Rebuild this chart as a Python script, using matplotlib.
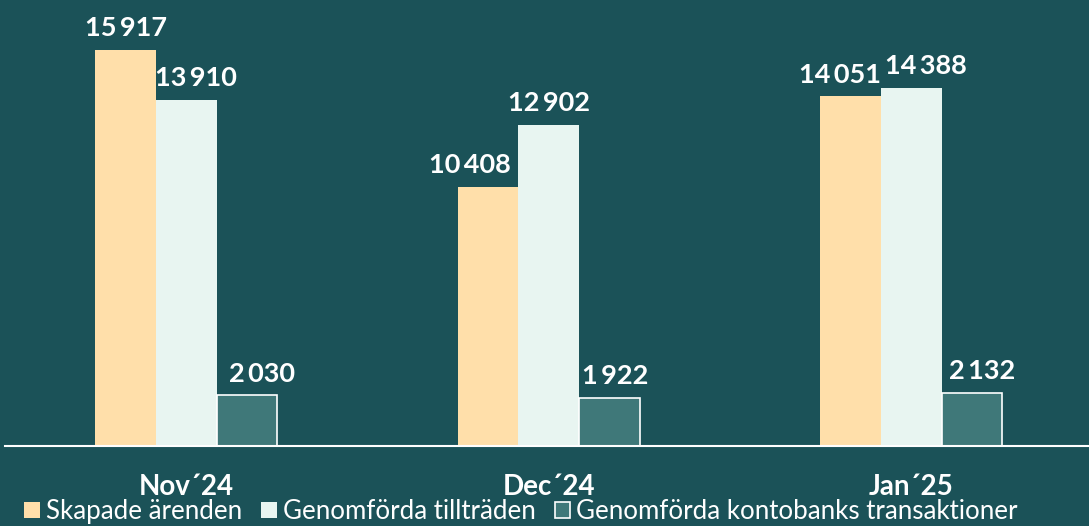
import matplotlib.pyplot as plt
import numpy as np

# data
months = ["Nov´24", "Dec´24", "Jan´25"]
series = ["Skapade ärenden", "Genomförda tillträden", "Genomförda kontobanks transaktioner"]
skapade = [15917, 10408, 14051]
tilltraden = [13910, 12902, 14388]
kontobank = [2030, 1922, 2132]

bg = "#1b5258"
colors = ["#ffdfaa", "#e8f5f1", "#3f7879"]
# label nudges (pixels) so neighbouring labels don't collide
nudge = [[0, -18, -11], [10, 0, 15], [15, 6, 10]]

plt.rcParams['font.family'] = ['Lato', 'DejaVu Sans']

fig = plt.figure(figsize=(10.89, 5.26), dpi=100, facecolor=bg)
ax = fig.add_axes([5 / 1089, 80 / 526, 1 - 5 / 1089, 446 / 526])
ax.set_facecolor(bg)

x = np.arange(len(months))
w = 0.1674
values = [skapade, tilltraden, kontobank]
for i, (vals, c, name) in enumerate(zip(values, colors, series)):
    edge = "white" if i == 2 else c
    bars = ax.bar(x + (i - 1) * w, vals, width=w, color=c, edgecolor=edge,
                  linewidth=1.2 if i == 2 else 0, label=name, zorder=2)
    for j, (b, v) in enumerate(zip(bars, vals)):
        ax.annotate(f"{v:,}".replace(",", "\u2009"),
                    (b.get_x() + b.get_width() / 2, v),
                    xytext=(nudge[i][j] * 0.72, 7), textcoords="offset points",
                    ha="center", va="bottom", color="white",
                    fontsize=19.5, fontweight="bold")

ax.set_xlim(-0.5, 2.49)
ax.set_ylim(0, 17926)
ax.set_yticks([])
ax.set_xticks(x)
ax.set_xticklabels(months, color="white", fontsize=20, fontweight="bold")
ax.tick_params(axis="x", length=0, pad=20)
for s in ["top", "right", "left"]:
    ax.spines[s].set_visible(False)
ax.spines["bottom"].set_color("white")
ax.spines["bottom"].set_linewidth(1.5)

leg = fig.legend(loc="lower left", bbox_to_anchor=(24 / 1089, 0.004), ncol=3,
                 frameon=False, fontsize=18.6, labelcolor="white",
                 handlelength=0.61, handleheight=0.61, handletextpad=0.23,
                 columnspacing=0.74, borderaxespad=0, borderpad=0)

fig.savefig("out.png", dpi=100, facecolor=bg)
